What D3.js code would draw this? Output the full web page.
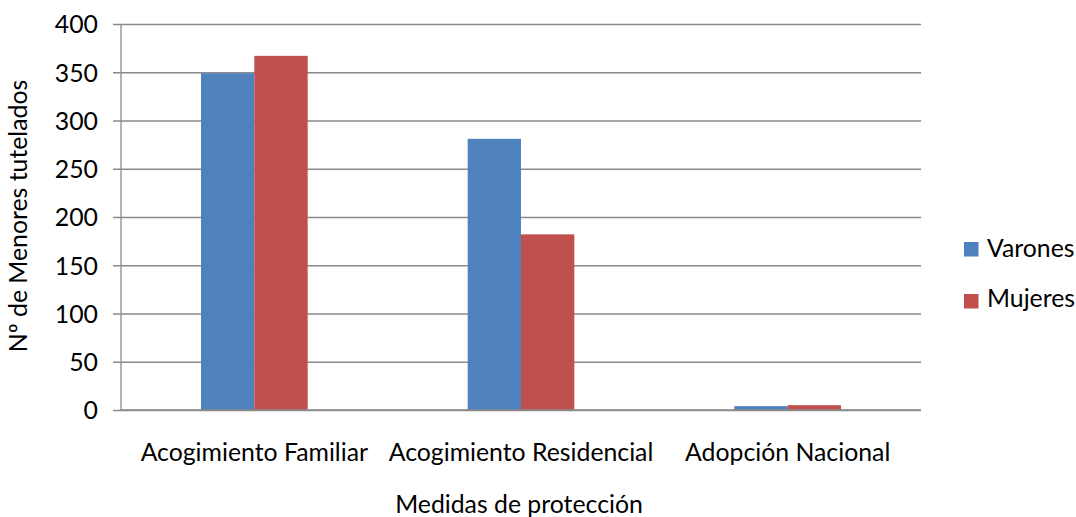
<!DOCTYPE html>
<html><head><meta charset="utf-8">
<script src="https://cdn.jsdelivr.net/npm/d3@7"></script>
<style>body{margin:0;background:#fff}svg{display:block}text{font-family:Lato,"Open Sans",sans-serif;fill:#000}</style>
</head><body><svg id="c" width="1076" height="517"></svg>
<script>
const categories = ["Acogimiento Familiar", "Acogimiento Residencial", "Adopción Nacional"];
const seriesNames = ["Varones", "Mujeres"];
const varones = [349, 281, 4];
const mujeres = [367, 182, 5];
const yTicks = [0, 50, 100, 150, 200, 250, 300, 350, 400];
const colors = ["#4F81BD", "#C0504D"];

(function () {
const svg = d3.select("#c");
const mL = 121, mR = 921, mT = 24, mB = 410;
const FF = "Lato";

const probe = svg.append("text").attr("font-family", FF).attr("font-size", 100).text(categories[0]);
const fs = Math.round(100 * 227 / probe.node().getComputedTextLength() * 10) / 10;
probe.remove();

const x = d3.scaleBand().domain(categories).range([mL, mR]).paddingInner(0).paddingOuter(0);
const y = d3.scaleLinear().domain([0, 400]).range([mB, mT]);
const data = [varones, mujeres];

const yAxis = d3.axisLeft(y).tickValues(yTicks).tickSize(-(mR - mL)).tickFormat(d3.format("d")).tickPadding(23);
const ga = svg.append("g").attr("transform", `translate(${mL},0)`).call(yAxis);
ga.select(".domain").remove();
ga.selectAll(".tick line").attr("stroke", "#8a8a8a").attr("stroke-width", 1.3).attr("x1", -8);
ga.selectAll(".tick text").attr("font-size", fs).attr("font-family", FF).attr("fill", "#000").attr("dy", "0.36em");
svg.append("line").attr("x1", mL).attr("x2", mL).attr("y1", mT).attr("y2", mB).attr("stroke", "#8a8a8a").attr("stroke-width", 1.3);

const barW = x.bandwidth() * 0.2;
const inner = d3.scaleBand().domain(seriesNames).range([0, barW * 2]);
seriesNames.forEach((s, si) => {
  svg.append("g").selectAll("rect").data(categories).join("rect")
    .attr("x", c => x(c) + x.bandwidth() * 0.3 + inner(s))
    .attr("y", (c, i) => y(data[si][i]))
    .attr("width", inner.bandwidth())
    .attr("height", (c, i) => y(0) - y(data[si][i]))
    .attr("fill", colors[si]);
});

const xAxis = d3.axisBottom(x).tickSize(0);
const gx = svg.append("g").attr("transform", `translate(0,${mB})`).call(xAxis);
gx.select(".domain").remove();
gx.selectAll(".tick text").attr("font-size", fs).attr("font-family", FF).attr("fill", "#000").attr("y", 51).attr("dy", 0);
svg.append("line").attr("x1", mL).attr("x2", mR).attr("y1", mB).attr("y2", mB).attr("stroke", "#8a8a8a").attr("stroke-width", 1.3);

svg.append("text").attr("x", 519).attr("y", 513).attr("text-anchor", "middle").attr("font-size", fs).attr("font-family", FF).text("Medidas de protección");
svg.append("text").attr("transform", "translate(27,216) rotate(-90)").attr("text-anchor", "middle").attr("font-size", fs).attr("font-family", FF).text("Nº de Menores tutelados");

const lg = svg.append("g");
seriesNames.forEach((s, i) => {
  lg.append("rect").attr("x", 964).attr("y", 242 + i * 52).attr("width", 14.5).attr("height", 14.5).attr("fill", colors[i]);
  lg.append("text").attr("x", 987).attr("y", 256.5 + i * 50.5).attr("font-size", fs).attr("font-family", FF).text(s);
});
})();
</script></body></html>
